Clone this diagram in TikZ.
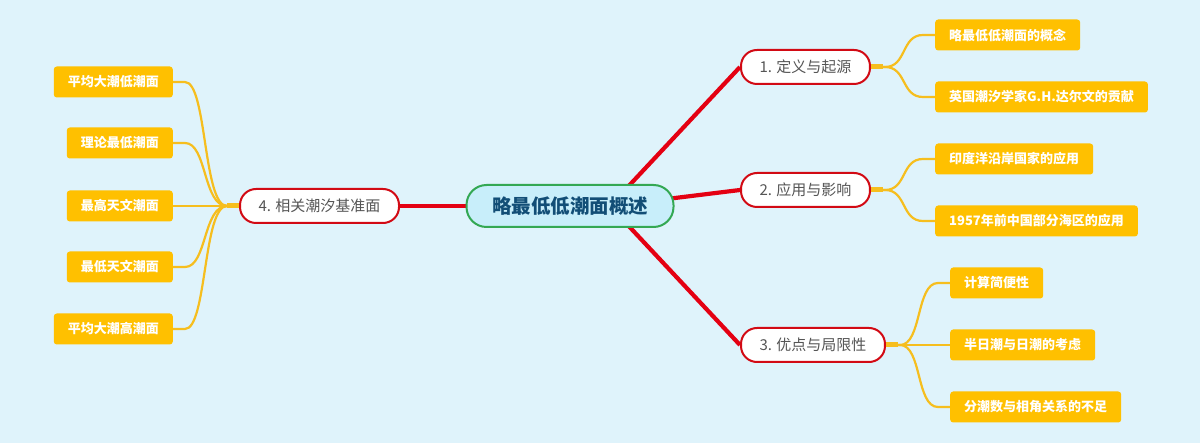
\documentclass[tikz,border=0pt]{standalone}
\usepackage{fontspec}
\setmainfont{Noto Sans CJK SC}
\definecolor{bg}{RGB}{223,243,251}
\definecolor{rootgreen}{RGB}{52,168,83}
\definecolor{rootfill}{RGB}{200,238,250}
\definecolor{roottext}{RGB}{18,78,118}
\definecolor{brred}{RGB}{210,10,20}
\definecolor{linered}{RGB}{228,0,18}
\definecolor{brtext}{RGB}{85,85,85}
\definecolor{leafyellow}{RGB}{255,192,0}
\definecolor{curveyellow}{RGB}{246,190,30}
\pgfdeclarelayer{bglayer}
\pgfsetlayers{bglayer,main}
\begin{document}
\begin{tikzpicture}[x=1pt,y=-1pt,
 root/.style={draw=rootgreen, line width=2pt, fill=rootfill, rounded corners=20pt, minimum height=42pt, minimum width=207pt, font=\fontsize{19.5}{20}\selectfont\bfseries, text=roottext},
 branch/.style={draw=brred, line width=2pt, fill=white, rounded corners=16pt, minimum height=34pt, inner xsep=18.5pt, font=\fontsize{15}{15}\selectfont, text=brtext},
 leaf/.style={fill=leafyellow, rounded corners=3pt, minimum height=31pt, inner xsep=14pt, font=\fontsize{13}{13}\selectfont\bfseries, text=white},
 redline/.style={draw=linered, line width=4.2pt},
 yline/.style={draw=curveyellow, line width=2.2pt},
 ystub/.style={draw=curveyellow, line width=5pt}]
\begin{pgfonlayer}{bglayer}
\fill[bg] (0,0) rectangle (1200,443);
\end{pgfonlayer}
\useasboundingbox (0,0) rectangle (1200,443);
% root and branches
\node[root] (root) at (570,206) {略最低低潮面概述};
\node[branch, anchor=west] (b1) at (740,67) {1. 定义与起源};
\node[branch, anchor=west] (b2) at (740,190) {2. 应用与影响};
\node[branch, anchor=west] (b3) at (740,345) {3. 优点与局限性};
\node[branch, anchor=east] (b4) at (400,206) {4. 相关潮汐基准面};
\coordinate (hubr) at (610,206);
\coordinate (hubl) at (530,206);
% leaves
\node[leaf, anchor=west] (l11) at (935,35) {略最低低潮面的概念};
\node[leaf, anchor=west] (l12) at (935,97) {英国潮汐学家G.H.达尔文的贡献};
\node[leaf, anchor=west] (l21) at (935,159) {印度洋沿岸国家的应用};
\node[leaf, anchor=west] (l22) at (935,221) {1957年前中国部分海区的应用};
\node[leaf, anchor=west] (l31) at (950,283) {计算简便性};
\node[leaf, anchor=west] (l32) at (950,345) {半日潮与日潮的考虑};
\node[leaf, anchor=west] (l33) at (950,407) {分潮数与相角关系的不足};
\node[leaf, anchor=east] (l41) at (173,82) {平均大潮低潮面};
\node[leaf, anchor=east] (l42) at (173,143) {理论最低潮面};
\node[leaf, anchor=east] (l43) at (173,206) {最高天文潮面};
\node[leaf, anchor=east] (l44) at (173,267) {最低天文潮面};
\node[leaf, anchor=east] (l45) at (173,329) {平均大潮高潮面};
\begin{pgfonlayer}{bglayer}
\draw[redline] (hubr) -- (b1.west);
\draw[redline] (hubr) -- (b2.west);
\draw[redline] (hubr) -- (b3.west);
\draw[redline] (hubl) -- (b4.east);
% right curves
\foreach \b/\l in {b1/l11,b1/l12,b2/l21,b2/l22,b3/l31,b3/l32,b3/l33}{
  \draw[ystub] (\b.east) -- ++(12,0);
  \draw[yline] (\b.east) -- ++(14,0) .. controls +(22,0) and +(-22,0) .. ([xshift=-12pt]\l.west) -- (\l.west);
}
% left curves
\foreach \l in {l41,l42,l43,l44,l45}{
  \draw[ystub] (b4.west) -- ++(-12,0);
  \draw[yline] (b4.west) -- ++(-12,0) .. controls +(-24,0) and +(22,0) .. ([xshift=12pt]\l.east) -- (\l.east);
}
\end{pgfonlayer}
\end{tikzpicture}
\end{document}
